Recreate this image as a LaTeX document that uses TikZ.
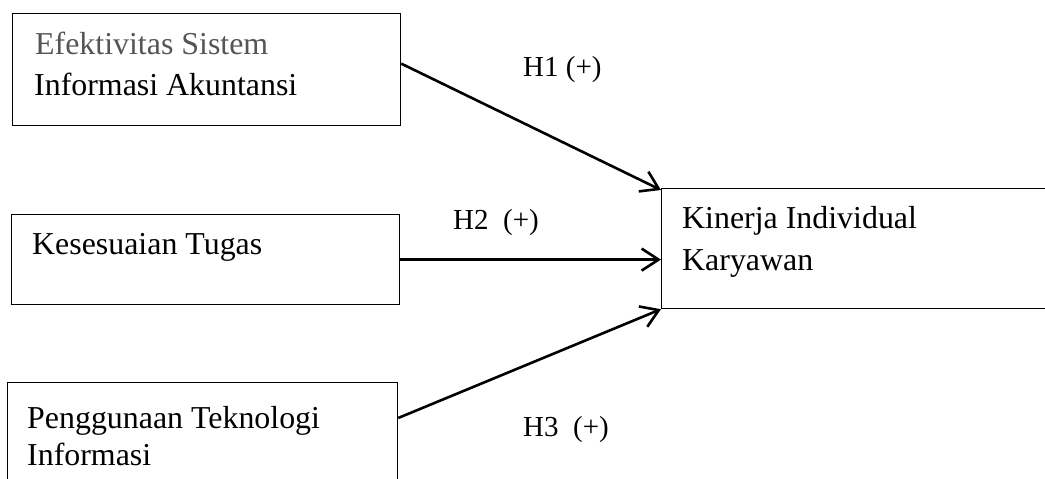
\documentclass[tikz,border=0pt]{standalone}
\usepackage{fontspec}
\setmainfont{Liberation Serif}
\usetikzlibrary{arrows.meta,calc}
\definecolor{softgray}{HTML}{555555}
\tikzset{
  varbox/.style={draw=black, line width=1.2pt, rectangle, anchor=north west, inner sep=0pt},
  boxtext/.style={anchor=base west, inner sep=0pt, font=\fontsize{31.9pt}{38pt}\selectfont},
  hyplabel/.style={anchor=base west, inner sep=0pt, font=\fontsize{29pt}{35pt}\selectfont},
  effect/.style={line width=2.6pt, -{Straight Barb[length=17pt, width=22pt, line width=2.6pt]}}
}
\begin{document}
\begin{tikzpicture}[x=1pt, y=-1pt]
  \useasboundingbox (0,0) rectangle (1045,479);
  \clip (0,0) rectangle (1045,479);
  \fill[white] (0,0) rectangle (1045,479);

  % variable boxes
  \node[varbox, minimum width=388pt, minimum height=112pt] (b1) at (12,13) {};
  \node[varbox, minimum width=388pt, minimum height=90pt] (b2) at (11,214) {};
  \node[varbox, minimum width=440pt, minimum height=120pt] (b3) at (661,188) {};
  \node[varbox, minimum width=390pt, minimum height=130pt] (b4) at (7,382) {};

  % box texts
  \node[boxtext, text=softgray] (t1a) at (35,54) {Efektivitas Sistem};
  \node[boxtext] (t1b) at (34,95) {Informasi Akuntansi};
  \node[boxtext] (t2) at (32,254) {Kesesuaian Tugas};
  \node[boxtext] (t3a) at (682,228) {Kinerja Individual};
  \node[boxtext] (t3b) at (682,270) {Karyawan};
  \node[boxtext] (t4a) at (27,428) {Penggunaan Teknologi};
  \node[boxtext] (t4b) at (27,465) {Informasi};

  % hypothesis labels
  \node[hyplabel] (h1) at (523,76) {H1 (+)};
  \node[hyplabel] (h2) at (453,229) {H2~~(+)};
  \node[hyplabel] (h3) at (523,436) {H3~~(+)};

  % hypothesised effects
  \draw[effect] ([yshift=6pt]b1.east) -- ([yshift=-2pt]b3.north west);
  \draw[effect] (b2.east) -- (b2.east -| b3.west);
  \draw[effect] ([yshift=-36pt]b4.north east) -- (b3.south west);
\end{tikzpicture}
\end{document}
